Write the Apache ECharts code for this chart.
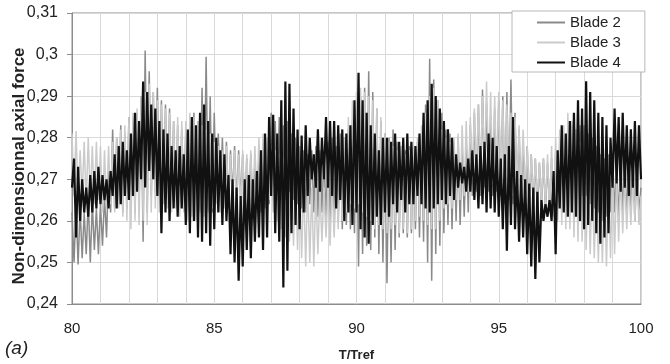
<!DOCTYPE html>
<html>
<head>
<meta charset="utf-8">
<script src="https://cdn.jsdelivr.net/npm/echarts@6/dist/echarts.min.js"></script>
<style>
  html, body { margin: 0; padding: 0; background: #fff; }
  #chart { width: 670px; height: 364px; }
</style>
</head>
<body>
<div id="chart"></div>
<script>
// Sampling of the time axis (T/Tref): 14 samples per unit from 80 to 100
const tStart = 80;
const samplesPerUnit = 14;

// Axis tick values
const xTicks = [80, 85, 90, 95, 100];
const yTicks = [0.24, 0.25, 0.26, 0.27, 0.28, 0.29, 0.30, 0.31];

const seriesNames = ['Blade 2', 'Blade 3', 'Blade 4'];

// Non-dimensional axial force, one row per unit of T/Tref
const blade2 = [
  0.262, 0.250, 0.264, 0.2495, 0.263, 0.251, 0.262, 0.252, 0.265, 0.250, 0.264, 0.253, 0.263, 0.252,
  0.264, 0.254, 0.266, 0.256, 0.272, 0.262, 0.282, 0.263, 0.280, 0.264, 0.283, 0.262, 0.281, 0.263,
  0.285, 0.263, 0.284, 0.262, 0.286, 0.264, 0.290, 0.255, 0.301, 0.262, 0.296, 0.266, 0.291, 0.267,
  0.292, 0.266, 0.289, 0.268, 0.288, 0.265, 0.287, 0.266, 0.284, 0.265, 0.283, 0.264, 0.282, 0.266,
  0.281, 0.264, 0.283, 0.265, 0.286, 0.262, 0.284, 0.263, 0.292, 0.262, 0.2995, 0.263, 0.290, 0.262,
  0.286, 0.265, 0.281, 0.266, 0.280, 0.265, 0.279, 0.264, 0.277, 0.266, 0.278, 0.264, 0.277, 0.265,
  0.276, 0.262, 0.275, 0.263, 0.276, 0.262, 0.274, 0.264, 0.275, 0.262, 0.277, 0.263, 0.279, 0.264,
  0.286, 0.265, 0.284, 0.266, 0.285, 0.264, 0.283, 0.265, 0.284, 0.267, 0.281, 0.265, 0.280, 0.264,
  0.278, 0.263, 0.277, 0.262, 0.276, 0.264, 0.277, 0.262, 0.278, 0.261, 0.277, 0.262, 0.276, 0.260,
  0.279, 0.259, 0.280, 0.258, 0.278, 0.260, 0.281, 0.258, 0.280, 0.259, 0.282, 0.258, 0.284, 0.257,
  0.287, 0.249, 0.290, 0.252, 0.292, 0.254, 0.296, 0.253, 0.291, 0.256, 0.287, 0.252, 0.284, 0.250,
  0.281, 0.245, 0.280, 0.250, 0.282, 0.253, 0.279, 0.256, 0.278, 0.257, 0.277, 0.256, 0.278, 0.257,
  0.278, 0.258, 0.279, 0.256, 0.280, 0.255, 0.288, 0.250, 0.299, 0.2456, 0.294, 0.252, 0.289, 0.254,
  0.286, 0.257, 0.282, 0.259, 0.281, 0.258, 0.279, 0.260, 0.280, 0.259, 0.278, 0.261, 0.279, 0.262,
  0.283, 0.266, 0.286, 0.267, 0.288, 0.266, 0.2916, 0.268, 0.288, 0.267, 0.285, 0.266, 0.287, 0.267,
  0.289, 0.266, 0.290, 0.264, 0.291, 0.265, 0.294, 0.264, 0.286, 0.265, 0.282, 0.264, 0.279, 0.263,
  0.278, 0.262, 0.276, 0.263, 0.275, 0.262, 0.274, 0.263, 0.275, 0.262, 0.274, 0.263, 0.275, 0.262,
  0.276, 0.263, 0.278, 0.264, 0.279, 0.264, 0.281, 0.265, 0.283, 0.266, 0.282, 0.265, 0.283, 0.266,
  0.283, 0.266, 0.281, 0.264, 0.280, 0.263, 0.278, 0.262, 0.276, 0.260, 0.275, 0.261, 0.276, 0.262,
  0.276, 0.262, 0.274, 0.260, 0.275, 0.262, 0.276, 0.261, 0.274, 0.262, 0.275, 0.260, 0.274, 0.262,
  0.268
];

const blade3 = [
  0.281, 0.266, 0.2816, 0.265, 0.277, 0.266, 0.279, 0.264, 0.280, 0.265, 0.278, 0.264, 0.279, 0.265,
  0.278, 0.262, 0.277, 0.263, 0.278, 0.264, 0.279, 0.262, 0.280, 0.263, 0.282, 0.261, 0.283, 0.260,
  0.285, 0.258, 0.286, 0.260, 0.287, 0.259, 0.290, 0.260, 0.291, 0.259, 0.293, 0.262, 0.291, 0.263,
  0.289, 0.262, 0.288, 0.264, 0.287, 0.263, 0.286, 0.262, 0.284, 0.263, 0.285, 0.261, 0.284, 0.262,
  0.284, 0.260, 0.286, 0.261, 0.285, 0.260, 0.284, 0.262, 0.283, 0.261, 0.282, 0.262, 0.281, 0.263,
  0.279, 0.264, 0.278, 0.262, 0.277, 0.263, 0.278, 0.264, 0.276, 0.263, 0.277, 0.262, 0.276, 0.263,
  0.277, 0.262, 0.276, 0.264, 0.277, 0.263, 0.278, 0.265, 0.280, 0.264, 0.281, 0.266, 0.280, 0.265,
  0.278, 0.262, 0.277, 0.260, 0.276, 0.258, 0.275, 0.256, 0.274, 0.255, 0.273, 0.254, 0.272, 0.253,
  0.270, 0.251, 0.269, 0.249, 0.270, 0.250, 0.268, 0.249, 0.268, 0.252, 0.267, 0.255, 0.268, 0.256,
  0.269, 0.254, 0.270, 0.256, 0.272, 0.258, 0.275, 0.260, 0.280, 0.262, 0.285, 0.264, 0.289, 0.263,
  0.291, 0.264, 0.292, 0.262, 0.291, 0.261, 0.290, 0.260, 0.289, 0.258, 0.287, 0.259, 0.285, 0.258,
  0.281, 0.257, 0.279, 0.258, 0.278, 0.259, 0.277, 0.257, 0.278, 0.258, 0.276, 0.257, 0.277, 0.258,
  0.279, 0.260, 0.280, 0.261, 0.283, 0.260, 0.286, 0.259, 0.290, 0.258, 0.292, 0.258, 0.289, 0.260,
  0.282, 0.263, 0.280, 0.264, 0.279, 0.263, 0.280, 0.265, 0.281, 0.265, 0.283, 0.266, 0.284, 0.267,
  0.285, 0.270, 0.287, 0.271, 0.288, 0.270, 0.290, 0.271, 0.2935, 0.271, 0.291, 0.269, 0.290, 0.270,
  0.291, 0.268, 0.289, 0.267, 0.288, 0.267, 0.286, 0.266, 0.285, 0.267, 0.283, 0.266, 0.282, 0.266,
  0.278, 0.265, 0.276, 0.264, 0.275, 0.265, 0.274, 0.264, 0.275, 0.263, 0.276, 0.262, 0.278, 0.261,
  0.280, 0.260, 0.282, 0.259, 0.283, 0.258, 0.286, 0.258, 0.284, 0.256, 0.282, 0.255, 0.279, 0.255,
  0.274, 0.253, 0.272, 0.252, 0.271, 0.251, 0.270, 0.250, 0.269, 0.250, 0.270, 0.249, 0.270, 0.251,
  0.272, 0.252, 0.271, 0.255, 0.272, 0.257, 0.271, 0.258, 0.270, 0.259, 0.271, 0.260, 0.272, 0.259,
  0.266
];

const blade4 = [
  0.268, 0.275, 0.256, 0.273, 0.260, 0.270, 0.262, 0.268, 0.261, 0.271, 0.262, 0.272, 0.263, 0.273,
  0.264, 0.271, 0.265, 0.270, 0.263, 0.272, 0.266, 0.276, 0.263, 0.278, 0.264, 0.279, 0.266, 0.277,
  0.265, 0.281, 0.266, 0.286, 0.267, 0.284, 0.270, 0.2935, 0.268, 0.291, 0.272, 0.288, 0.270, 0.287,
  0.266, 0.284, 0.257, 0.282, 0.262, 0.281, 0.260, 0.278, 0.263, 0.277, 0.261, 0.278, 0.263, 0.276,
  0.259, 0.282, 0.257, 0.285, 0.260, 0.283, 0.256, 0.286, 0.255, 0.288, 0.257, 0.284, 0.254, 0.281,
  0.258, 0.280, 0.262, 0.277, 0.259, 0.276, 0.260, 0.271, 0.252, 0.270, 0.250, 0.268, 0.2456, 0.266,
  0.249, 0.270, 0.253, 0.271, 0.251, 0.270, 0.255, 0.272, 0.256, 0.277, 0.253, 0.281, 0.256, 0.285,
  0.266, 0.2855, 0.257, 0.281, 0.255, 0.289, 0.244, 0.2935, 0.248, 0.293, 0.257, 0.287, 0.259, 0.282,
  0.258, 0.2805, 0.262, 0.283, 0.266, 0.280, 0.270, 0.276, 0.268, 0.282, 0.267, 0.280, 0.270, 0.285,
  0.268, 0.284, 0.266, 0.284, 0.263, 0.283, 0.265, 0.282, 0.260, 0.281, 0.262, 0.283, 0.259, 0.289,
  0.262, 0.2956, 0.258, 0.289, 0.256, 0.286, 0.2545, 0.283, 0.259, 0.281, 0.261, 0.277, 0.259, 0.280,
  0.262, 0.280, 0.261, 0.279, 0.264, 0.281, 0.262, 0.279, 0.265, 0.280, 0.262, 0.281, 0.264, 0.279,
  0.264, 0.278, 0.266, 0.281, 0.264, 0.286, 0.263, 0.289, 0.262, 0.293, 0.263, 0.290, 0.264, 0.287,
  0.265, 0.284, 0.264, 0.282, 0.266, 0.280, 0.265, 0.276, 0.268, 0.274, 0.269, 0.273, 0.267, 0.275,
  0.267, 0.277, 0.265, 0.276, 0.263, 0.278, 0.264, 0.279, 0.262, 0.281, 0.263, 0.280, 0.262, 0.278,
  0.261, 0.275, 0.258, 0.276, 0.2528, 0.278, 0.259, 0.285, 0.258, 0.272, 0.255, 0.271, 0.256, 0.270,
  0.252, 0.269, 0.249, 0.268, 0.246, 0.267, 0.250, 0.265, 0.260, 0.264, 0.261, 0.265, 0.260, 0.272,
  0.252, 0.277, 0.263, 0.283, 0.262, 0.281, 0.261, 0.284, 0.262, 0.286, 0.261, 0.289, 0.260, 0.287,
  0.258, 0.2936, 0.259, 0.291, 0.260, 0.289, 0.257, 0.286, 0.2545, 0.285, 0.256, 0.283, 0.257, 0.280,
  0.268, 0.287, 0.269, 0.285, 0.267, 0.286, 0.268, 0.283, 0.266, 0.282, 0.268, 0.284, 0.266, 0.283,
  0.270
];

const FONT = '"Liberation Sans", Arial, Helvetica, sans-serif';

// pair each sample with its time stamp
function withTime(values) {
  return values.map((v, i) => [tStart + i / samplesPerUnit, v]);
}

function decimalComma(v) {
  return String(+v.toFixed(2)).replace('.', ',');
}

const chart = echarts.init(document.getElementById('chart'), null, { renderer: 'canvas' });

const xMin = xTicks[0], xMax = xTicks[xTicks.length - 1];
const yMin = yTicks[0], yMax = yTicks[yTicks.length - 1];

function lineSeries(name, values, color, width, z) {
  return {
    name: name,
    type: 'line',
    // a flat 'line' marker keeps the legend sample a plain stroke
    symbol: 'line',
    showSymbol: false,
    sampling: null,
    data: withTime(values),
    lineStyle: { color: color, width: width },
    itemStyle: { color: color },
    emphasis: { disabled: true },
    z: z
  };
}

chart.setOption({
  animation: false,
  backgroundColor: '#ffffff',
  textStyle: { fontFamily: FONT },
  grid: {
    left: 72, right: 29, top: 13, bottom: 60,
    containLabel: false,
    outerBoundsMode: 'none',
    show: true, borderColor: '#8c8c8c', borderWidth: 1,
    backgroundColor: 'transparent'
  },
  legend: {
    orient: 'vertical',
    left: 512, top: 11,
    padding: [4, 24, 2, 24],
    itemGap: 5,
    itemWidth: 28, itemHeight: 14,
    backgroundColor: '#ffffff',
    borderColor: '#b8b8b8', borderWidth: 1,
    borderRadius: 0,
    textStyle: { fontFamily: FONT, fontSize: 15, color: '#222', lineHeight: 15 },
    data: seriesNames
  },
  xAxis: {
    type: 'value',
    min: xMin, max: xMax, interval: 5,
    name: 'T/Tref',
    nameLocation: 'middle',
    nameGap: 45,
    nameTextStyle: { fontFamily: FONT, fontSize: 13, fontWeight: 'bold', color: '#222' },
    axisLine: { show: true, lineStyle: { color: '#8c8c8c', width: 1 } },
    axisTick: { show: false },
    minorTick: { show: false, splitNumber: 5 },
    axisLabel: { fontFamily: FONT, fontSize: 15, color: '#222', margin: 17 },
    splitLine: { show: true, lineStyle: { color: '#d9d9d9', width: 1 } },
    minorSplitLine: { show: true, lineStyle: { color: '#d9d9d9', width: 1 } }
  },
  yAxis: {
    type: 'value',
    min: yMin, max: yMax, interval: 0.01,
    axisLine: { show: true, lineStyle: { color: '#8c8c8c', width: 1 } },
    axisTick: { show: true, inside: false, length: 5, lineStyle: { color: '#8c8c8c' } },
    axisLabel: {
      fontFamily: FONT, fontSize: 16, color: '#222', margin: 14,
      formatter: decimalComma
    },
    splitLine: { show: true, lineStyle: { color: '#d9d9d9', width: 1 } }
  },
  graphic: [
    {
      type: 'text',
      x: 19, y: 166,
      rotation: Math.PI / 2,
      style: {
        text: 'Non-dimensionnal axial force',
        font: 'bold 17px ' + FONT,
        fill: '#222',
        align: 'center',
        verticalAlign: 'middle'
      }
    },
    {
      type: 'text',
      x: 5, y: 349,
      style: {
        text: '(a)',
        font: 'italic 19px ' + FONT,
        fill: '#222',
        align: 'left',
        verticalAlign: 'middle'
      }
    }
  ],
  series: [
    lineSeries(seriesNames[0], blade2, '#8a8a8a', 1.5, 2),
    lineSeries(seriesNames[1], blade3, '#cbcbcb', 1.5, 2),
    lineSeries(seriesNames[2], blade4, '#111111', 2.2, 3)
  ]
});
</script>
</body>
</html>
